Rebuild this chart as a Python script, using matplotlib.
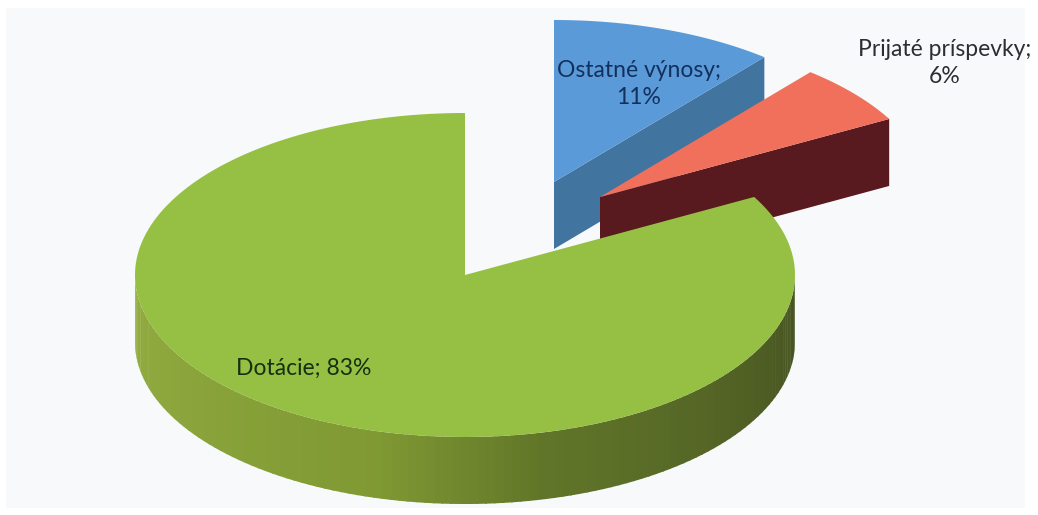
import numpy as np
import matplotlib
matplotlib.use("Agg")
import matplotlib.pyplot as plt
from matplotlib.patches import Polygon, Rectangle

labels = ["Ostatné výnosy", "Prijaté príspevky", "Dotácie"]
shares = [11, 6, 83]
top_colors = ["#5b9ad8", "#f0705c", "#96c043"]
side_colors = ["#41749f", "#581a1e", "#8aa63a"]
text_colors = ["#12305c", "#2a2f33", "#143010"]

RX, RY, DEPTH = 330, 162, 67

# shade of the curved wall, left to right
shade_pos = [0, 0.42, 0.58, 1]
shade_r = [0.58, 0.50, 0.38, 0.27]
shade_g = [0.68, 0.60, 0.46, 0.32]
shade_b = [0.26, 0.20, 0.16, 0.13]


def arc(cx, cy, t0, t1):
    t = np.radians(np.linspace(t0, t1, 200))
    return np.column_stack([cx + RX * np.sin(t), cy - RY * np.cos(t)])


def draw_slice(ax, cx, cy, t0, t1, top, side, z):
    # flat wall at the end of the slice
    rim = arc(cx, cy, t1, t1)[0]
    wall = [(cx, cy), rim, rim + (0, DEPTH), (cx, cy + DEPTH)]
    ax.add_patch(Polygon(wall, fc=side, ec="none", zorder=z))
    # outer wall, only the front half shows
    a, b = max(t0, 90), min(t1, 270)
    if b > a:
        ts = np.linspace(a, b, 120)
        for i in range(len(ts) - 1):
            seg = arc(cx, cy, ts[i], ts[i + 1] + 0.3)
            f = (270 - ts[i]) / 180
            shade = (np.interp(f, shade_pos, shade_r),
                     np.interp(f, shade_pos, shade_g),
                     np.interp(f, shade_pos, shade_b))
            ax.add_patch(Polygon(np.vstack([seg, seg[::-1] + (0, DEPTH)]),
                                 fc=shade, ec="none", zorder=z))
    pts = np.vstack([[(cx, cy)], arc(cx, cy, t0, t1)])
    ax.add_patch(Polygon(pts, fc=top, ec="none", zorder=z + 0.5))


plt.rcParams["font.family"] = ["Lato", "DejaVu Sans"]
fig = plt.figure(figsize=(10.38, 5.15), dpi=100, facecolor="white")
ax = fig.add_axes([0, 0, 1, 1])
ax.set_xlim(0, 1038)
ax.set_ylim(515, 0)
ax.axis("off")
ax.add_patch(Rectangle((6, 8), 1019, 500, fc="#f8f9fa", ec="none", zorder=0))

edges = np.concatenate([[0], np.cumsum(shares)]) * 3.6
centers = [(554, 182), (600, 197), (465, 275)]
for i in range(3):
    draw_slice(ax, centers[i][0], centers[i][1], edges[i], edges[i + 1],
               top_colors[i], side_colors[i], i + 1)

ax.text(639, 84, f"{labels[0]};\n{shares[0]}%", ha="center", va="center",
        fontsize=16.5, linespacing=1.4, color=text_colors[0], zorder=9)
ax.text(945, 63, f"{labels[1]};\n{shares[1]}%", ha="center", va="center",
        fontsize=16.5, linespacing=1.4, color=text_colors[1], zorder=9)
ax.text(304, 368, f"{labels[2]}; {shares[2]}%", ha="center", va="center",
        fontsize=16.5, color=text_colors[2], zorder=9)

fig.savefig("out.png", dpi=100, facecolor="white")
